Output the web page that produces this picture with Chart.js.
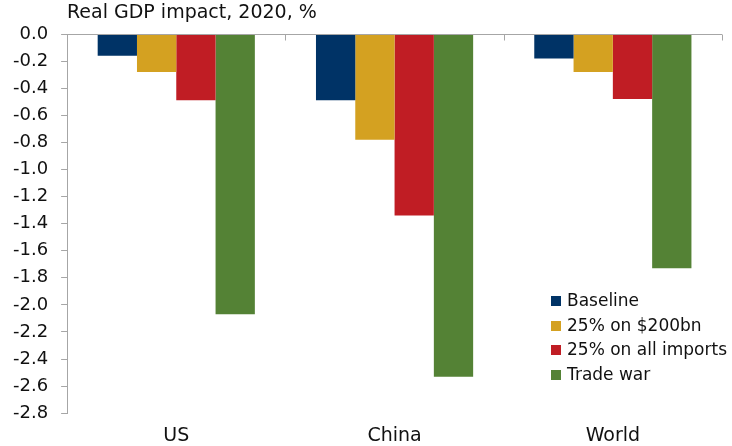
<!DOCTYPE html>
<html>
<head>
<meta charset="utf-8">
<script src="https://cdn.jsdelivr.net/npm/chart.js@4.4.1/dist/chart.umd.min.js"></script>
<style>
    body { margin: 0; background: #fff; }
    #wrap { position: relative; width: 732px; height: 446px; }
    #title {
        position: absolute; left: 67px; top: 2px;
        font: 19px "DejaVu Sans", sans-serif; line-height: 19px; color: #111;
    }
    #legend {
        position: absolute; left: 551px; top: 288px;
        font: 17px "DejaVu Sans", sans-serif; color: #111;
    }
    #legend div { height: 24.5px; line-height: 24.5px; white-space: nowrap; }
    #legend span {
        display: inline-block; width: 10px; height: 10px; margin-right: 6px;
    }
</style>
</head>
<body>
<div id="wrap">
    <canvas id="chart" width="732" height="446"></canvas>
    <div id="title">Real GDP impact, 2020, %</div>
    <div id="legend"></div>
</div>
<script>
// Chart data
const categories = ['US', 'China', 'World'];
const seriesNames = ['Baseline', '25% on $200bn', '25% on all imports', 'Trade war'];
const baseline = [-0.16, -0.49, -0.18];
const tariff200 = [-0.28, -0.78, -0.28];
const tariffAll = [-0.49, -1.34, -0.48];
const tradeWar = [-2.07, -2.53, -1.73];
const seriesColors = ['#003366', '#D4A121', '#C01D24', '#548235'];
const yMin = -2.8;
const yMax = 0;
const yStep = 0.2;

const seriesData = [baseline, tariff200, tariffAll, tradeWar];

// Build legend from the series
const legendEl = document.getElementById('legend');
seriesNames.forEach((name, i) => {
    const row = document.createElement('div');
    const box = document.createElement('span');
    box.style.background = seriesColors[i];
    row.appendChild(box);
    row.appendChild(document.createTextNode(name));
    legendEl.appendChild(row);
});

// Zero line with small category ticks pointing down
const zeroAxis = {
    id: 'zeroAxis',
    afterDatasetsDraw(chart) {
        const { ctx, chartArea, scales } = chart;
        const y0 = Math.round(scales.y.getPixelForValue(0)) + 0.5;
        const n = categories.length;
        ctx.save();
        ctx.strokeStyle = '#a6a6a6';
        ctx.lineWidth = 1;
        ctx.beginPath();
        ctx.moveTo(chartArea.left, y0);
        ctx.lineTo(chartArea.right, y0);
        for (let i = 0; i <= n; i++) {
            const bx = Math.round(scales.x.left + i * scales.x.width / n) + 0.5;
            ctx.moveTo(bx, y0);
            ctx.lineTo(bx, y0 + 6);
        }
        ctx.stroke();
        ctx.restore();
    }
};

const ctx = document.getElementById('chart').getContext('2d');
new Chart(ctx, {
    type: 'bar',
    data: {
        labels: categories,
        datasets: seriesNames.map((name, i) => ({
            label: name,
            data: seriesData[i],
            backgroundColor: seriesColors[i],
            borderWidth: 0,
            categoryPercentage: 0.72,
            barPercentage: 1
        }))
    },
    options: {
        responsive: false,
        animation: false,
        layout: { padding: { left: 0, right: 10, top: 34, bottom: -12 } },
        plugins: {
            legend: { display: false },
            tooltip: { enabled: false }
        },
        scales: {
            x: {
                grid: { display: false, drawTicks: false },
                border: { display: false },
                ticks: {
                    color: '#111',
                    padding: 11,
                    font: { family: 'DejaVu Sans', size: 19 }
                }
            },
            y: {
                min: yMin,
                max: yMax,
                grid: { drawOnChartArea: false, tickLength: 6, color: '#a6a6a6' },
                border: { color: '#a6a6a6' },
                ticks: {
                    stepSize: yStep,
                    color: '#111',
                    padding: 13,
                    font: { family: 'DejaVu Sans', size: 18 },
                    callback: v => v.toFixed(1)
                }
            }
        }
    },
    plugins: [zeroAxis]
});
</script>
</body>
</html>
